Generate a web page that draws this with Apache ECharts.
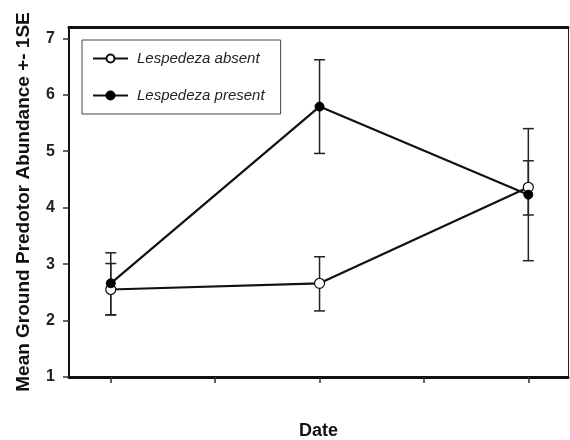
<!DOCTYPE html>
<html>
<head>
<meta charset="utf-8">
<script src="https://cdn.jsdelivr.net/npm/echarts@6/dist/echarts.min.js"></script>
<style>html,body{margin:0;padding:0;background:#fff}#c{width:570px;height:440px}</style>
</head>
<body>
<div id="c"></div>
<script>
// Data
var datePositions = [0, 2, 4];
var xTickValues = [0, 1, 2, 3, 4];
var yTickValues = [1, 2, 3, 4, 5, 6, 7];
var absentMean = [2.55, 2.66, 4.36];
var absentLow  = [2.10, 2.17, 3.87];
var absentHigh = [3.01, 3.13, 4.83];
var presentMean = [2.66, 5.79, 4.23];
var presentLow  = [2.10, 4.96, 3.06];
var presentHigh = [3.20, 6.62, 5.40];
var seriesNames = ['Lespedeza absent', 'Lespedeza present'];

function pairs(xs, ys) { return xs.map(function (x, i) { return [x, ys[i]]; }); }
function errData(xs, lo, hi) { return xs.map(function (x, i) { return [x, lo[i], hi[i]]; }); }

function renderErr(params, api) {
  var x = api.value(0);
  var lo = api.coord([x, api.value(1)]);
  var hi = api.coord([x, api.value(2)]);
  var hw = 5.5;
  var st = { stroke: '#222', lineWidth: 1.5 };
  return {
    type: 'group',
    children: [
      { type: 'line', shape: { x1: lo[0], y1: lo[1], x2: hi[0], y2: hi[1] }, style: st },
      { type: 'line', shape: { x1: lo[0] - hw, y1: lo[1], x2: lo[0] + hw, y2: lo[1] }, style: st },
      { type: 'line', shape: { x1: hi[0] - hw, y1: hi[1], x2: hi[0] + hw, y2: hi[1] }, style: st }
    ]
  };
}

var chart = echarts.init(document.getElementById('c'), null, { renderer: 'canvas' });
var font = 'Arial, "Liberation Sans", sans-serif';
chart.setOption({
  animation: false,
  backgroundColor: '#fff',
  grid: { left: 69, right: 2, top: 27, bottom: 63, containLabel: false, outerBoundsMode: 'none' },
  legend: {
    orient: 'vertical',
    left: 82, top: 40,
    padding: [11, 16, 11, 10],
    itemWidth: 35, itemHeight: 10, itemGap: 22,
    borderColor: '#444', borderWidth: 1, borderRadius: 0,
    textStyle: { fontFamily: font, fontStyle: 'italic', fontSize: 15, color: '#222', padding: [0, 0, 0, 4] },
    data: seriesNames
  },
  xAxis: [{
    type: 'value', min: -0.4, max: 4.38, position: 'bottom',
    name: 'Date', nameLocation: 'middle', nameGap: 45,
    nameTextStyle: { fontFamily: font, fontWeight: 'bold', fontSize: 18, color: '#111' },
    axisLine: { show: true, onZero: false, lineStyle: { color: '#111', width: 3 } },
    axisTick: { show: true, inside: false, length: 6, lineStyle: { color: '#333', width: 1.5 }, customValues: xTickValues },
    axisLabel: { show: false },
    splitLine: { show: false }
  }, {
    type: 'value', min: -0.4, max: 4.38, position: 'top',
    axisLine: { show: true, onZero: false, lineStyle: { color: '#111', width: 3 } },
    axisTick: { show: false }, axisLabel: { show: false }, splitLine: { show: false }
  }],
  yAxis: [{
    type: 'value', min: 1, max: 7.2, interval: 1, position: 'left',
    name: 'Mean Ground Predotor Abundance +- 1SE', nameLocation: 'middle', nameGap: 36,
    nameTextStyle: { fontFamily: font, fontWeight: 'bold', fontSize: 19, color: '#111' },
    axisLine: { show: true, onZero: false, lineStyle: { color: '#111', width: 2 } },
    axisTick: { show: true, inside: false, length: 6, lineStyle: { color: '#333', width: 1.5 }, customValues: yTickValues },
    axisLabel: { fontFamily: font, fontWeight: 'bold', fontSize: 16, color: '#222', margin: 14, customValues: yTickValues },
    splitLine: { show: false }
  }, {
    type: 'value', min: 1, max: 7.2, position: 'right',
    axisLine: { show: true, onZero: false, lineStyle: { color: '#222', width: 1 } },
    axisTick: { show: false }, axisLabel: { show: false }, splitLine: { show: false }
  }],
  series: [
    {
      type: 'custom', name: 'errAbsent', renderItem: renderErr, z: 1,
      data: errData(datePositions, absentLow, absentHigh), encode: { x: 0, y: [1, 2] }
    },
    {
      type: 'custom', name: 'errPresent', renderItem: renderErr, z: 1,
      data: errData(datePositions, presentLow, presentHigh), encode: { x: 0, y: [1, 2] }
    },
    {
      type: 'line', name: seriesNames[0], z: 3,
      data: pairs(datePositions, absentMean),
      symbol: 'circle', symbolSize: 10,
      lineStyle: { color: '#111', width: 2.2 },
      itemStyle: { color: '#fff', borderColor: '#111', borderWidth: 1.2 }
    },
    {
      type: 'line', name: seriesNames[1], z: 4,
      data: pairs(datePositions, presentMean),
      symbol: 'circle', symbolSize: 9,
      lineStyle: { color: '#111', width: 2.2 },
      itemStyle: { color: '#000', borderColor: '#000', borderWidth: 1 }
    }
  ]
});
</script>
</body>
</html>
